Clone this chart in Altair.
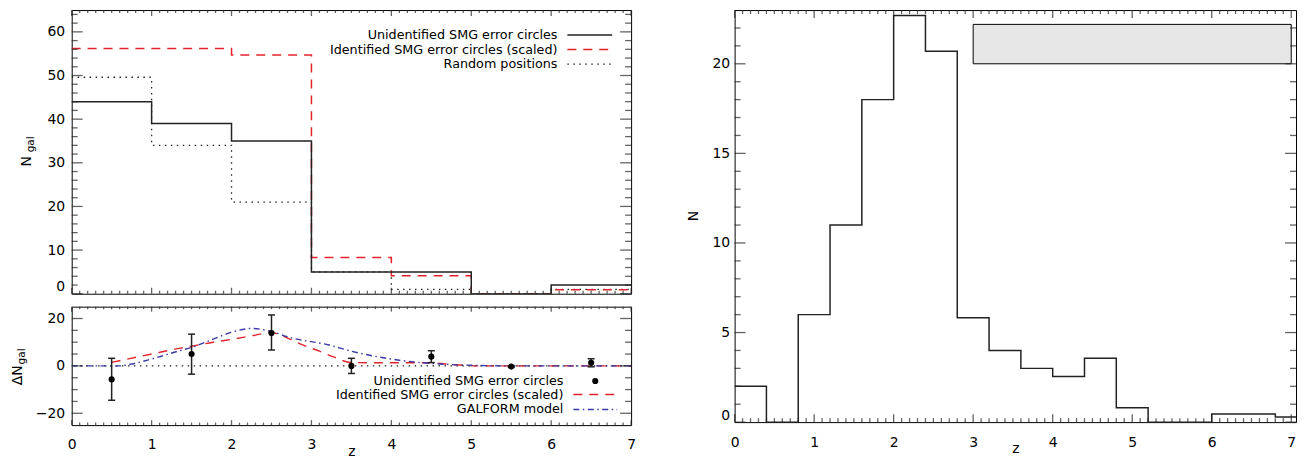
import altair as alt
import pandas as pd

FONT = "DejaVu Sans"

# ---------------- data: top-left histograms (N_gal per redshift bin) ----------------
bin_edges = [0, 1, 2, 3, 4, 5, 6, 7]
n_unident = [44, 39, 35, 5, 5, 0, 2]
n_ident_scaled = [56.2, 56.2, 54.7, 8.3, 4.1, 0, 0.9]
n_random = [49.6, 34, 21, 5, 1, 0, 1]

# ---------------- data: bottom-left excess ----------------
dz_centers = [0.5, 1.5, 2.5, 3.5, 4.5, 5.5, 6.5]
dn_unident = [-5.7, 5.0, 13.9, 0.0, 3.9, -0.3, 1.3]
dn_err_lo = [-14.5, -3.5, 6.7, -3.2, 1.4, -0.6, -0.4]
dn_err_hi = [3.2, 13.4, 21.5, 3.2, 6.4, 0.0, 3.0]

ident_z = [0.5, 1.0, 1.36, 1.5, 1.77, 2.0, 2.25, 2.5, 2.73, 2.85, 3.1, 3.27, 3.5, 4.0, 4.5, 4.75, 5.1, 6.0, 7.0]
ident_dn = [1.5, 5.0, 7.5, 8.3, 10.0, 11.2, 12.7, 14.0, 11.3, 9.4, 6.2, 3.9, 1.4, 1.3, 1.3, 0.6, 0.0, 0.0, 0.0]

galform_z = [0.0, 0.6, 0.75, 1.0, 1.36, 1.5, 1.77, 2.02, 2.25, 2.5, 2.73, 3.22, 3.5, 4.1, 4.6, 5.1, 5.5, 7.0]
galform_dn = [0.0, 0.0, 0.8, 2.9, 6.5, 7.8, 11.3, 14.4, 15.8, 14.5, 12.0, 8.8, 6.2, 2.4, 0.8, 0.2, 0.0, 0.0]

zero_level = [0]

# ---------------- data: right histogram ----------------
r_edges = [0.0, 0.4, 0.8, 1.2, 1.6, 2.0, 2.4, 2.8, 3.2, 3.6, 4.0, 4.4, 4.8, 5.2, 5.6, 6.0, 6.4, 6.8, 7.2]
r_counts = [2.0, 0.0, 6.0, 11.0, 18.0, 22.7, 20.7, 5.83, 4.0, 3.0, 2.55, 3.57, 0.8, 0.0, 0.0, 0.46, 0.46, 0.28]

band_z = [3.0]
band_z2 = [7.0]
band_lo = [20.0]
band_hi = [22.2]

# tick positions
x_major = [0, 1, 2, 3, 4, 5, 6, 7]
x_minor = [i / 10 for i in range(71) if i % 10]
y_major_top = [0, 10, 20, 30, 40, 50, 60]
y_minor_top = [v for v in range(0, 66, 2) if v % 10]
y_major_bot = [-20, 0, 20]
y_minor_bot = [-15, -10, -5, 5, 10, 15]
y_major_r = [0, 5, 10, 15, 20]
y_minor_r = [v for v in range(23) if v % 5]

# ---------------- geometry ----------------
W_L, H_T, H_B = 562, 285, 119
W_R, H_R = 564, 414

RED = "#e2232b"
BLUE = "#3a3aa6"
INK = "#222222"
DASH = [9, 7]
DOT = [1.5, 4.5]
DASHDOT = [6, 3.5, 1.5, 3.5]

xs_left = alt.Scale(domain=[0, 7], nice=False, zero=False)
ys_top = alt.Scale(domain=[0, 65], nice=False, zero=False)
ys_bot = alt.Scale(domain=[-25, 25], nice=False, zero=False)
xs_r = alt.Scale(domain=[0, 7.06], nice=False, zero=False)
ys_r = alt.Scale(domain=[0, 23], nice=False, zero=False)

ax_x_top = alt.Axis(labels=False, title=None)
ax_x_bot = alt.Axis(values=x_major, format="d", labelFlush=False, labelPadding=12, title="z",
                    titleBaseline="alphabetic", titleY=31)
ax_y_top = alt.Axis(values=y_major_top, format="d", labelFlush=True, labelPadding=7, title=None)
ax_y_bot = alt.Axis(values=y_major_bot, format="d", labelPadding=7, title=None)
ax_x_r = alt.Axis(values=x_major, format="d", labelFlush=False, labelPadding=13.5, title="z",
                  titleBaseline="alphabetic", titleY=31)
ax_y_r = alt.Axis(values=y_major_r, format="d", labelFlush=True, labelPadding=5, title=None)


def step_df(edges, vals):
    return pd.DataFrame({"z": edges, "v": list(vals) + [vals[-1]]})


def ticks(vals, side, length, scale, axis, w, h):
    df = pd.DataFrame({"tickpos": [float(v) for v in vals]})
    if side in ("bottom", "top"):
        yc = h - length / 2 if side == "bottom" else length / 2
        return alt.Chart(df).mark_tick(orient="vertical", size=length, thickness=1.3,
                                       color=INK).encode(
            x=alt.X("tickpos:Q", scale=scale, axis=axis), y=alt.value(yc))
    xc = length / 2 if side == "left" else w - length / 2
    return alt.Chart(df).mark_tick(orient="horizontal", size=length, thickness=1.3,
                                   color=INK).encode(
        y=alt.Y("tickpos:Q", scale=scale, axis=axis), x=alt.value(xc))


def frame_ticks(xs, xa, ys, ya, w, h, xmaj, xmin, ymaj, ymin, xl, yl):
    out = []
    for side in ("bottom", "top"):
        out.append(ticks(xmaj, side, xl, xs, xa, w, h))
        out.append(ticks(xmin, side, xl / 2, xs, xa, w, h))
    for side in ("left", "right"):
        out.append(ticks(ymaj, side, yl, ys, ya, w, h))
        out.append(ticks(ymin, side, yl / 2 + 0.5, ys, ya, w, h))
    return out


def text(t, x, y, size=12.8, align="right", angle=0, baseline="middle"):
    return alt.Chart(pd.DataFrame({"t": [t]})).mark_text(
        align=align, baseline=baseline, fontSize=size, font=FONT, angle=angle, color="black"
    ).encode(x=alt.value(x), y=alt.value(y), text="t:N")


def sample_line(x1, x2, y, color, dash=None, width=1.5):
    kw = dict(color=color, strokeWidth=width)
    if dash:
        kw["strokeDash"] = dash
    return alt.Chart(pd.DataFrame({"a": [0]})).mark_rule(**kw).encode(
        x=alt.value(x1), x2=alt.value(x2), y=alt.value(y))


def hist_line(edges, vals, xs, xa, ys, ya, color, dash=None, width=1.5):
    kw = dict(interpolate="step-after", color=color, strokeWidth=width, clip=True)
    if dash:
        kw["strokeDash"] = dash
    return alt.Chart(step_df(edges, vals)).mark_line(**kw).encode(
        x=alt.X("z:Q", scale=xs, axis=xa), y=alt.Y("v:Q", scale=ys, axis=ya))


# ---------------- top-left panel ----------------
top_layers = [
    hist_line(bin_edges, n_random, xs_left, ax_x_top, ys_top, ax_y_top, INK, DOT, 1.3),
    hist_line(bin_edges, n_ident_scaled, xs_left, ax_x_top, ys_top, ax_y_top, RED, DASH, 1.5),
    hist_line(bin_edges, n_unident, xs_left, ax_x_top, ys_top, ax_y_top, INK, None, 1.5),
    text("Unidentified SMG error circles", 488, 25),
    text("Identified SMG error circles (scaled)", 488, 39.7),
    text("Random positions", 488, 54.3),
    sample_line(498, 543, 25, INK, None, 1.5),
    sample_line(498, 543, 39.7, RED, DASH, 1.5),
    sample_line(498, 543, 54.3, INK, DOT, 1.3),
    text("N", -41, 152, size=14, align="center", angle=270, baseline="alphabetic"),
    text("gal", -38, 135, size=10.5, align="center", angle=270, baseline="alphabetic"),
]
top_layers += frame_ticks(xs_left, ax_x_top, ys_top, ax_y_top, W_L, H_T,
                          x_major, x_minor, y_major_top, y_minor_top, 6, 11)
top_panel = alt.layer(*top_layers).properties(width=W_L, height=H_T)

# ---------------- bottom-left panel ----------------
pts = pd.DataFrame({"z": dz_centers, "dn": dn_unident, "lo": dn_err_lo, "hi": dn_err_hi})
bx = lambda: alt.X("z:Q", scale=xs_left, axis=ax_x_bot)
by = lambda f: alt.Y(f, scale=ys_bot, axis=ax_y_bot)

bot_layers = [
    alt.Chart(pd.DataFrame({"v": zero_level})).mark_rule(color=INK, strokeDash=DOT, strokeWidth=1.3).encode(
        y=by("v:Q")),
    alt.Chart(pd.DataFrame({"z": ident_z, "v": ident_dn})).mark_line(
        interpolate="monotone", color=RED, strokeDash=DASH, strokeWidth=1.4).encode(x=bx(), y=by("v:Q")),
    alt.Chart(pd.DataFrame({"z": galform_z, "v": galform_dn})).mark_line(
        interpolate="monotone", color=BLUE, strokeDash=DASHDOT, strokeWidth=1.4).encode(x=bx(), y=by("v:Q")),
    alt.Chart(pts).mark_rule(color=INK, strokeWidth=1.5).encode(x=bx(), y=by("lo:Q"), y2="hi:Q"),
    alt.Chart(pts).mark_rule(color=INK, strokeWidth=1.5, xOffset=-3.5, x2Offset=3.5).encode(
        x=bx(), x2="z:Q", y=by("lo:Q")),
    alt.Chart(pts).mark_rule(color=INK, strokeWidth=1.5, xOffset=-3.5, x2Offset=3.5).encode(
        x=bx(), x2="z:Q", y=by("hi:Q")),
    alt.Chart(pts).mark_circle(color="black", size=38, opacity=1).encode(x=bx(), y=by("dn:Q")),
    text("Unidentified SMG error circles", 494, 74.7),
    text("Identified SMG error circles (scaled)", 494, 88.3),
    text("GALFORM model", 494, 103.3),
    alt.Chart(pd.DataFrame({"a": [0]})).mark_circle(color="black", size=38, opacity=1).encode(
        x=alt.value(526), y=alt.value(74.7)),
    sample_line(504, 548, 88.3, RED, DASH, 1.5),
    sample_line(504, 548, 103.3, BLUE, DASHDOT, 1.5),
    text("\u0394N", -50, 69, size=14, align="center", angle=270, baseline="alphabetic"),
    text("gal", -47, 50, size=10.5, align="center", angle=270, baseline="alphabetic"),
]
bot_layers += frame_ticks(xs_left, ax_x_bot, ys_bot, ax_y_bot, W_L, H_B,
                          x_major, x_minor, y_major_bot, y_minor_bot, 5, 11)
bot_panel = alt.layer(*bot_layers).properties(width=W_L, height=H_B)

left_col = alt.vconcat(top_panel, bot_panel, spacing=10)

# ---------------- right panel ----------------
band = pd.DataFrame({"z": band_z, "z2": band_z2, "lo": band_lo, "hi": band_hi})
right_layers = [
    alt.Chart(band).mark_rect(fill="#e6e6e6", stroke="black", strokeWidth=1).encode(
        x=alt.X("z:Q", scale=xs_r, axis=ax_x_r), x2="z2:Q",
        y=alt.Y("lo:Q", scale=ys_r, axis=ax_y_r), y2="hi:Q"),
    hist_line(r_edges, r_counts, xs_r, ax_x_r, ys_r, ax_y_r, INK, None, 1.5),
    text("N", -37, 207, size=14, align="center", angle=270, baseline="alphabetic"),
]
right_layers += frame_ticks(xs_r, ax_x_r, ys_r, ax_y_r, W_R, H_R,
                            x_major, x_minor, y_major_r, y_minor_r, 8, 11)
right_panel = alt.layer(*right_layers).properties(width=W_R, height=H_R)

chart = alt.hconcat(left_col, right_panel, spacing=50).properties(
    padding={"left": 2, "top": 0, "right": 0, "bottom": 0}
).configure_view(stroke="black", strokeWidth=1).configure_axis(
    grid=False, ticks=False, domain=False,
    labelFont=FONT, labelFontSize=14, labelColor="black",
    titleFont=FONT, titleFontSize=14, titleFontWeight="normal", titleColor="black",
)

chart.save("out.html", embed_options={"renderer": "svg", "actions": False})
